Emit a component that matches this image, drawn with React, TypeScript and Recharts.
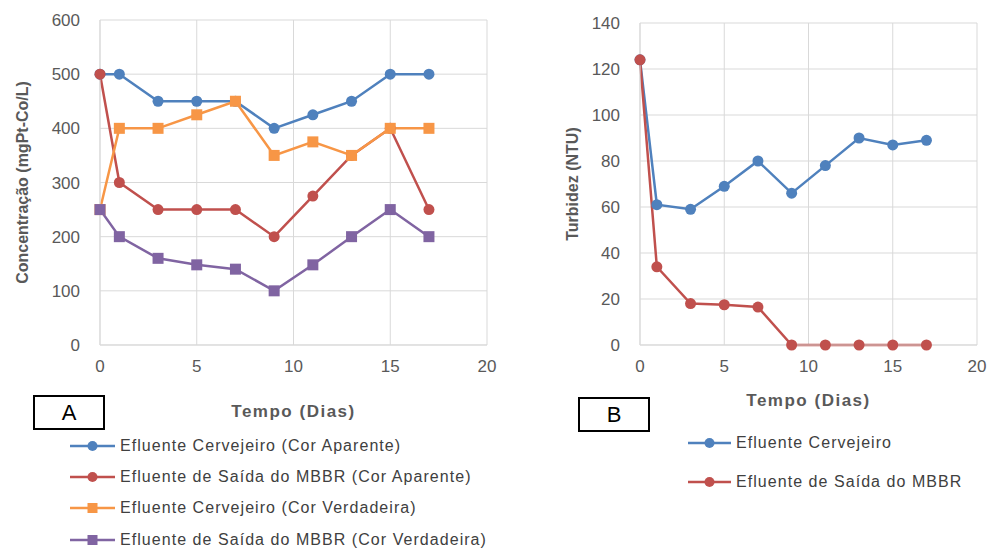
import { CartesianGrid, Line, LineChart, XAxis, YAxis } from 'recharts';

const days = [0, 1, 3, 5, 7, 9, 11, 13, 15, 17];
const xTicks = [0, 5, 10, 15, 20];

// Gráfico A - cor (mgPt-Co/L)
const cervejeiroAparente = [500, 500, 450, 450, 450, 400, 425, 450, 500, 500];
const saidaAparente = [500, 300, 250, 250, 250, 200, 275, 350, 400, 250];
const cervejeiroVerdadeira = [250, 400, 400, 425, 450, 350, 375, 350, 400, 400];
const saidaVerdadeira = [250, 200, 160, 148, 140, 100, 148, 200, 250, 200];
const corTicks = [0, 100, 200, 300, 400, 500, 600];

// Gráfico B - turbidez (NTU)
const turbidezCervejeiro = [124, 61, 59, 69, 80, 66, 78, 90, 87, 89];
const turbidezSaida = [124, 34, 18, 17.5, 16.5, 0, 0, 0, 0, 0];
const turbTicks = [0, 20, 40, 60, 80, 100, 120, 140];

const BLUE = '#4f81bd';
const RED = '#c0504d';
const ORANGE = '#f79646';
const PURPLE = '#8064a2';

const seriesA = [
  { key: 'ca', name: 'Efluente Cervejeiro (Cor Aparente)', values: cervejeiroAparente, color: BLUE, square: false },
  { key: 'sa', name: 'Efluente de Saída do MBBR (Cor Aparente)', values: saidaAparente, color: RED, square: false },
  { key: 'cv', name: 'Efluente Cervejeiro (Cor Verdadeira)', values: cervejeiroVerdadeira, color: ORANGE, square: true },
  { key: 'sv', name: 'Efluente de Saída do MBBR (Cor Verdadeira)', values: saidaVerdadeira, color: PURPLE, square: true },
];
const seriesB = [
  { key: 'tc', name: 'Efluente Cervejeiro', values: turbidezCervejeiro, color: BLUE, square: false },
  { key: 'ts', name: 'Efluente de Saída do MBBR', values: turbidezSaida, color: RED, square: false },
];

const dataA = days.map((d, i) => {
  const row: Record<string, number> = { day: d };
  seriesA.forEach((s) => (row[s.key] = s.values[i]));
  return row;
});
const dataB = days.map((d, i) => {
  const row: Record<string, number> = { day: d };
  seriesB.forEach((s) => (row[s.key] = s.values[i]));
  return row;
});

const FONT = '"Liberation Sans", Arial, sans-serif';
const tickStyle = { fill: '#595959', fontSize: 17, fontFamily: FONT };
const labelStyle = { fill: '#595959', fontSize: 16, fontWeight: 700, fontFamily: FONT, textAnchor: 'middle' as const };
const xLabelStyle = { ...labelStyle, fontSize: 17, letterSpacing: 1.5 };
const GRID = '#d9d9d9';

const squareDot = (color: string) => (p: any) => (
  <rect key={`sq-${p.index}`} x={p.cx - 5.5} y={p.cy - 5.5} width={11} height={11} fill={color} />
);

function renderLines(series: typeof seriesA) {
  return series.map((s) => (
    <Line
      key={s.key}
      dataKey={s.key}
      name={s.name}
      stroke={s.color}
      strokeWidth={2.5}
      dot={s.square ? squareDot(s.color) : { r: 5.5, fill: s.color, stroke: s.color, strokeWidth: 0 }}
      activeDot={false}
      isAnimationActive={false}
    />
  ));
}

function LegendRows({ series, left, tops, iconW }: { series: typeof seriesA; left: number; tops: number[]; iconW: number }) {
  return (
    <>
      {series.map((s, i) => (
        <div
          key={s.key}
          style={{ position: 'absolute', left, top: tops[i] - 10, height: 20, display: 'flex', alignItems: 'center', fontFamily: FONT, fontSize: 16, letterSpacing: 1.05, color: '#404040', whiteSpace: 'nowrap' }}
        >
          <svg width={iconW} height={14} style={{ marginRight: 5 }}>
            <line x1={0} y1={7} x2={iconW} y2={7} stroke={s.color} strokeWidth={2.5} />
            {s.square ? (
              <rect x={iconW / 2 - 5} y={2} width={10} height={10} fill={s.color} />
            ) : (
              <circle cx={iconW / 2} cy={7} r={5} fill={s.color} />
            )}
          </svg>
          <span>{s.name}</span>
        </div>
      ))}
    </>
  );
}

function Tag({ text, left, top }: { text: string; left: number; top: number }) {
  return (
    <div
      style={{ position: 'absolute', left, top, width: 68, height: 31, border: '2px solid #000', display: 'flex', alignItems: 'center', justifyContent: 'center', fontFamily: FONT, fontSize: 22, color: '#000' }}
    >
      {text}
    </div>
  );
}

export default function App() {
  return (
    <div style={{ position: 'absolute', left: 0, top: 0, width: 989, height: 549, background: '#fff' }}>
      <div style={{ position: 'absolute', left: 0, top: 0 }}>
        <LineChart width={500} height={430} data={dataA} margin={{ top: 20, right: 13, left: 0, bottom: 10 }}>
          <CartesianGrid stroke={GRID} />
          <XAxis
            dataKey="day"
            type="number"
            domain={[0, 20]}
            ticks={xTicks}
            tick={tickStyle}
            tickLine={false}
            tickSize={0}
            tickMargin={15}
            height={75}
            axisLine={{ stroke: GRID }}
            label={{ value: 'Tempo (Dias)', position: 'insideBottom', offset: 3, style: xLabelStyle }}
          />
          <YAxis
            type="number"
            domain={[0, 600]}
            ticks={corTicks}
            tick={tickStyle}
            tickLine={false}
            tickSize={0}
            tickMargin={20}
            width={100}
            axisLine={{ stroke: GRID }}
            label={{ value: 'Concentração (mgPt-Co/L)', angle: -90, position: 'insideLeft', offset: 22, style: labelStyle }}
          />
          {renderLines(seriesA)}
        </LineChart>
      </div>
      <div style={{ position: 'absolute', left: 540, top: 0 }}>
        <LineChart width={449} height={420} data={dataB} margin={{ top: 23, right: 12, left: 0, bottom: 12 }}>
          <CartesianGrid stroke={GRID} />
          <XAxis
            dataKey="day"
            type="number"
            domain={[0, 20]}
            ticks={xTicks}
            tick={tickStyle}
            tickLine={false}
            tickSize={0}
            tickMargin={15}
            height={63}
            axisLine={{ stroke: GRID }}
            label={{ value: 'Tempo (Dias)', position: 'insideBottom', offset: 2, style: xLabelStyle }}
          />
          <YAxis
            type="number"
            domain={[0, 140]}
            ticks={turbTicks}
            tick={tickStyle}
            tickLine={false}
            tickSize={0}
            tickMargin={20}
            width={100}
            axisLine={{ stroke: GRID }}
            label={{ value: 'Turbidez (NTU)', angle: -90, position: 'insideLeft', offset: 32, style: labelStyle }}
          />
          {renderLines(seriesB)}
        </LineChart>
      </div>
      <Tag text="A" left={33} top={395} />
      <Tag text="B" left={578} top={397} />
      <LegendRows series={seriesA} left={70} tops={[446, 477, 508, 540]} iconW={45} />
      <LegendRows series={seriesB} left={688} tops={[443, 482]} iconW={43} />
    </div>
  );
}
